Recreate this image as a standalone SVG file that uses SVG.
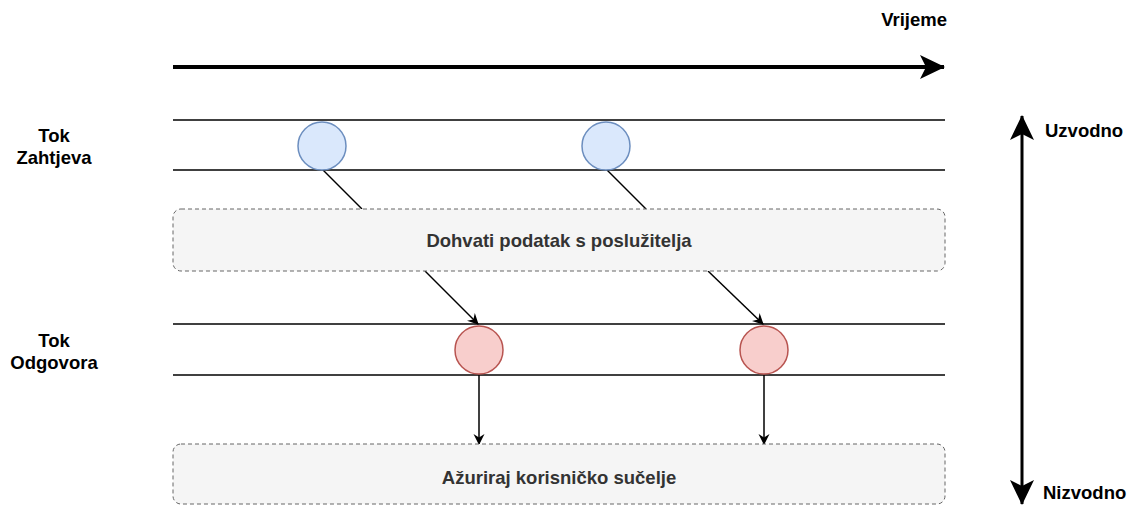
<svg xmlns="http://www.w3.org/2000/svg" width="1137" height="506" viewBox="0 0 1137 506">
<style>
text{font-family:"Liberation Sans",Arial,Helvetica,sans-serif;font-weight:bold;font-size:18.5px;}
.lane{stroke:#000;stroke-width:1.5;fill:none}
.box{fill:#f5f5f5;stroke:#666;stroke-width:1;stroke-dasharray:4 3}
.req{fill:#dae8fc;stroke:#6c8ebf;stroke-width:1.5}
.res{fill:#f8cecc;stroke:#b85450;stroke-width:1.5}
.conn{stroke:#000;stroke-width:1.5;fill:none}
.label{fill:#000}
.boxtext{fill:#333}
</style>
<defs>
<marker id="ah" markerWidth="12" markerHeight="12" refX="10" refY="6" orient="auto" markerUnits="userSpaceOnUse">
<path d="M0,0.5 L11,6 L0,11.5 L3.5,6 Z" fill="#000"/>
</marker>
<marker id="bigah" markerWidth="26" markerHeight="26" refX="24" refY="13" orient="auto-start-reverse" markerUnits="userSpaceOnUse">
<path d="M0,1 L25,13 L0,25 L6,13 Z" fill="#000"/>
</marker>
</defs>
<rect width="1137" height="506" fill="#fff"/>
<g id="time-axis">
<line x1="173" y1="67" x2="944" y2="67" stroke="#000" stroke-width="4" marker-end="url(#bigah)"/>
<text x="947" y="26" text-anchor="end" class="label">Vrijeme</text>
</g>
<g id="stream-axis">
<line x1="1022" y1="116" x2="1022" y2="504" stroke="#000" stroke-width="3" marker-start="url(#bigah)" marker-end="url(#bigah)"/>
<text x="1045" y="137" class="label">Uzvodno</text>
<text x="1043" y="499" class="label">Nizvodno</text>
</g>
<g id="lanes">
<line class="lane" x1="173" y1="120" x2="945" y2="120"/>
<line class="lane" x1="173" y1="170" x2="945" y2="170"/>
<line class="lane" x1="173" y1="324" x2="945" y2="324"/>
<line class="lane" x1="173" y1="375" x2="945" y2="375"/>
<text x="54" y="142" text-anchor="middle" class="label">Tok</text>
<text x="54" y="164" text-anchor="middle" class="label">Zahtjeva</text>
<text x="54" y="347" text-anchor="middle" class="label">Tok</text>
<text x="54" y="369" text-anchor="middle" class="label">Odgovora</text>
</g>
<g id="connectors">
<line class="conn" x1="323" y1="170" x2="362" y2="209"/>
<line class="conn" x1="607" y1="170" x2="646" y2="209"/>
<line class="conn" x1="425" y1="271" x2="478" y2="324" marker-end="url(#ah)"/>
<line class="conn" x1="708" y1="271" x2="763" y2="324" marker-end="url(#ah)"/>
<line class="conn" x1="479" y1="375" x2="479" y2="444" marker-end="url(#ah)"/>
<line class="conn" x1="764" y1="375" x2="764" y2="444" marker-end="url(#ah)"/>
</g>
<g id="box-fetch">
<rect class="box" x="173" y="209" width="772" height="62" rx="8"/>
<text x="559" y="247" text-anchor="middle" class="boxtext">Dohvati podatak s poslužitelja</text>
</g>
<g id="box-update">
<rect class="box" x="173" y="444" width="772" height="60" rx="8"/>
<text x="559" y="484" text-anchor="middle" class="boxtext">Ažuriraj korisničko sučelje</text>
</g>
<g id="req1"><circle class="req" cx="322" cy="146" r="24"/></g>
<g id="req2"><circle class="req" cx="606" cy="146" r="24"/></g>
<g id="res1"><circle class="res" cx="479" cy="350" r="24"/></g>
<g id="res2"><circle class="res" cx="764" cy="350" r="24"/></g>
</svg>
